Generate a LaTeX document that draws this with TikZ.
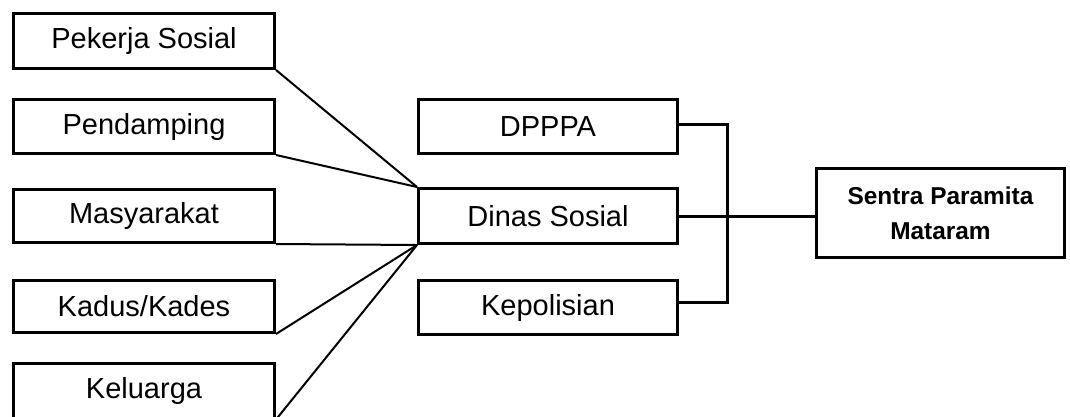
\documentclass[tikz,border=0pt]{standalone}
\usepackage{fontspec}
\setmainfont{Liberation Sans}
\begin{document}
\begin{tikzpicture}[x=1pt,y=-1pt,
  box/.style={draw=black,line width=3pt,rectangle,inner sep=0pt,
    font=\fontsize{29}{33}\selectfont},
  leftbox/.style={box,minimum width=261pt},
  midbox/.style={box,minimum width=259pt},
  conn/.style={draw=black,line width=2pt},
  brk/.style={draw=black,line width=3pt}]
\useasboundingbox (0,0) rectangle (1070,416);
\fill[white] (0,0) rectangle (1070,416);
\begin{scope}
\clip (0,0) rectangle (1070,416);
% left column
\node[leftbox,minimum height=55pt] (pek) at (144,41) {Pekerja Sosial};
\node[leftbox,minimum height=54pt] (pen) at (144,126.5) {Pendamping};
\node[leftbox,minimum height=53pt] (mas) at (144,216) {Masyarakat};
\node[leftbox,minimum height=52pt] (kad) at (144,306.5) {Kadus/Kades};
\node[leftbox,minimum height=55pt] (kel) at (144,390.5) {Keluarga};
% middle column
\node[midbox,minimum height=54pt] (dpp) at (548,126.5) {DPPPA};
\node[midbox,minimum height=55pt] (din) at (548,216) {Dinas Sosial};
\node[midbox,minimum height=54pt] (kep) at (548,307.5) {Kepolisian};
% right
\node[box,minimum width=248pt,minimum height=89pt,align=center,
  font=\fontsize{24.4}{35}\selectfont\bfseries] (sen) at (940.5,213)
  {Sentra Paramita\\Mataram};
% converging connectors
\draw[conn] (pek.south east) -- (din.north west);
\draw[conn] (pen.south east) -- (din.north west);
\draw[conn] (mas.south east) -- (din.south west);
\draw[conn] (kad.south east) -- (din.south west);
\draw[conn] (kel.south east) -- (din.south west);
% bracket
\coordinate (btop) at (727,124);
\coordinate (bbot) at (727,302);
\draw[brk] (dpp.east |- btop) -- (btop) -- (bbot) -- (kep.east |- bbot);
\draw[brk] (din.east) -- (din.east -| sen.west);
\end{scope}
\end{tikzpicture}
\end{document}
